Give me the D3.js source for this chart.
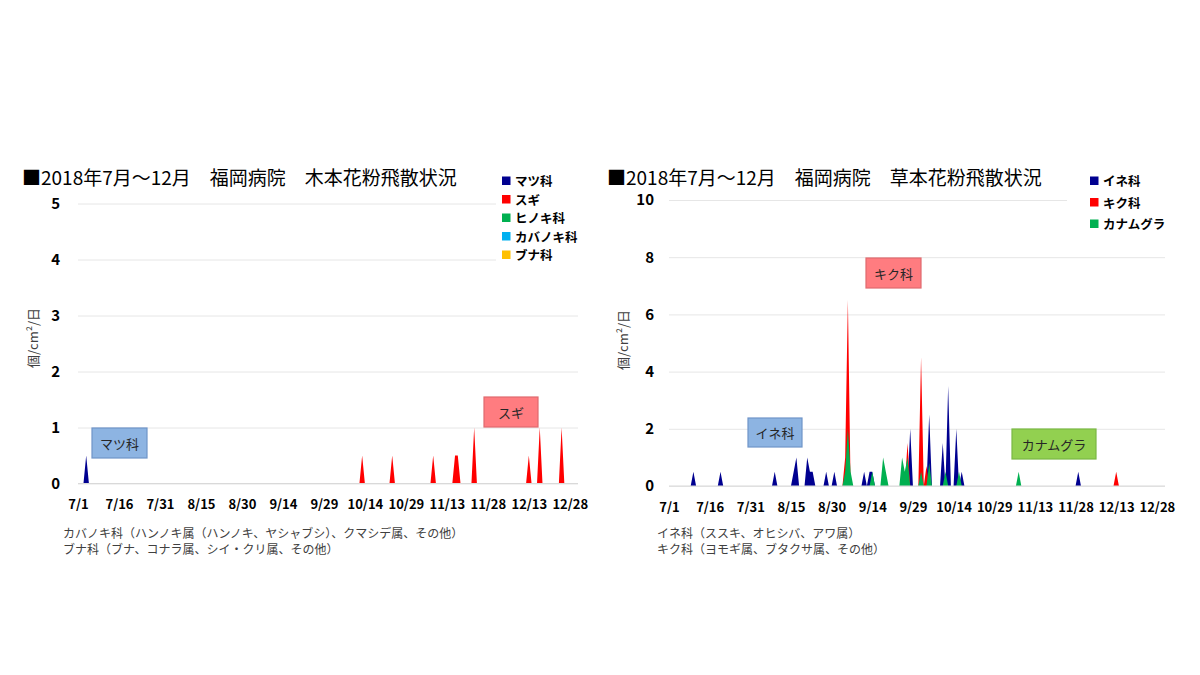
<!DOCTYPE html>
<html><head><meta charset="utf-8">
<script src="https://cdn.jsdelivr.net/npm/d3@7"></script>
<style>body{margin:0;background:#fff;} svg{display:block;}</style>
</head><body>
<svg id="c" width="1200" height="675"></svg>
<script>
// ---- shared ----
const year = 2018;
const tickLabels = ["7/1","7/16","7/31","8/15","8/30","9/14","9/29","10/14","10/29","11/13","11/28","12/13","12/28"];

// ---- left chart: tree pollen (木本) ----
const treeTitle = "■2018年7月～12月　福岡病院　木本花粉飛散状況";
const treeSeries = ["マツ科","スギ","ヒノキ科","カバノキ科","ブナ科"];
const treeColors = ["#000090","#ff0000","#00b050","#00b0f0","#ffc000"];
const pineDates = ["7/4"];
const pineValues = [0.5];
const cedarDates = ["10/13","10/24","11/8","11/16","11/17","11/23","12/13","12/17","12/25"];
const cedarValues = [0.5,0.5,0.5,0.5,0.5,1,0.5,1,1];
const cypressDates = [];  const cypressValues = [];
const birchDates = [];    const birchValues = [];
const beechDates = [];    const beechValues = [];
const treeYTicks = [0,1,2,3,4,5];
const treeNotes = ["カバノキ科（ハンノキ属（ハンノキ、ヤシャブシ）、クマシデ属、その他）","ブナ科（ブナ、コナラ属、シイ・クリ属、その他）"];

// ---- right chart: herb pollen (草本) ----
const herbTitle = "■2018年7月～12月　福岡病院　草本花粉飛散状況";
const herbSeries = ["イネ科","キク科","カナムグラ"];
const herbColors = ["#000090","#ff0000","#00b050"];
const grassDates = ["7/10","7/20","8/9","8/16","8/17","8/21","8/22","8/23","8/28","8/31","9/11","9/13","9/14","9/28","10/5","10/10","10/12","10/15","10/17","11/29"];
const grassValues = [0.5,0.5,0.5,0.5,1,1,0.5,0.5,0.5,0.5,0.5,0.5,0.5,2,2.5,1.5,3.5,2,0.5,0.5];
const asterDates = ["9/4","9/5","9/27","10/2","10/4","12/13"];
const asterValues = [1,6.5,1.5,4.5,0.7,0.5];
const hopDates = ["9/4","9/5","9/6","9/14","9/18","9/19","9/25","9/26","9/27","10/2","10/5","10/11","10/16","11/7"];
const hopValues = [0.5,2,0.5,0.5,1,0.5,1,0.5,1,0.5,0.8,0.5,0.5,0.5];
const herbYTicks = [0,2,4,6,8,10];
const herbNotes = ["イネ科（ススキ、オヒシバ、アワ属）","キク科（ヨモギ属、ブタクサ属、その他）"];

const yTitle = "個/cm²/日";

// ---- helpers ----
const parseMD = s => { const [m,d] = s.split("/").map(Number); return new Date(year, m-1, d); };
const days = d3.timeDay.range(new Date(year,6,1), new Date(year,11,31+1));
const key = d => (d.getMonth()+1)+"/"+d.getDate();
function series(dates, values){
  const m = new Map(dates.map((d,i)=>[d, values[i]]));
  return days.map(d => ({date:d, v: m.has(key(d)) ? m.get(key(d)) : 0}));
}
const FONT = "'Noto Sans CJK JP', 'Noto Sans', sans-serif";
const svg = d3.select("#c");

function drawChart(cfg){
  const g = svg.append("g");
  const x = d3.scaleTime().domain([days[0], days[days.length-1]]).range([cfg.x0, cfg.x1]);
  const y = d3.scaleLinear().domain([0, cfg.yMax]).range([cfg.y0, cfg.y1]);

  // title
  g.append("text").attr("x", cfg.titleX).attr("y", 176).attr("dominant-baseline","central")
    .attr("font-family", FONT).attr("font-size", 19).attr("fill","#000").text(cfg.title);

  // gridlines
  const grid = g.append("g").attr("transform", `translate(${cfg.x0},0)`)
    .call(d3.axisLeft(y).tickValues(cfg.yTicks).tickSize(-(cfg.x1-cfg.x0)).tickFormat(""));
  grid.select(".domain").remove();
  grid.selectAll("line").attr("stroke","#e6e6e6").attr("stroke-width",1);

  // areas (overlapping, drawn in series order)
  const area = d3.area().x(d=>x(d.date)).y0(y(0)).y1(d=>y(d.v)).curve(d3.curveLinear);
  cfg.data.forEach((s,i) => {
    g.append("path").datum(s).attr("d", area).attr("fill", cfg.colors[i]);
  });

  // baseline
  g.append("line").attr("x1",cfg.x0).attr("x2",cfg.x1).attr("y1",y(0)).attr("y2",y(0))
    .attr("stroke","#d9d9d9").attr("stroke-width",1.2);

  // y tick labels
  const ya = g.append("g").attr("transform", `translate(${cfg.yLabelX},0)`)
    .call(d3.axisLeft(y).tickValues(cfg.yTicks).tickSize(0).tickPadding(0).tickFormat(d3.format("d")));
  ya.select(".domain").remove();
  ya.selectAll("text").attr("font-family", FONT).attr("font-size", 15).attr("font-weight","bold").attr("fill","#000");

  // x tick labels
  const xa = g.append("g").attr("transform", `translate(0,${cfg.xLabelY})`)
    .call(d3.axisBottom(x).tickValues(tickLabels.map(parseMD)).tickSize(0).tickPadding(0)
      .tickFormat(d => (d.getMonth()+1)+"/"+d.getDate()));
  xa.select(".domain").remove();
  xa.selectAll("text").attr("font-family", FONT).attr("font-size", 13).attr("font-weight","bold").attr("fill","#000");

  // y axis title
  g.append("text").attr("transform", `translate(${cfg.yTitleX},${cfg.yTitleY}) rotate(-90)`)
    .attr("text-anchor","middle").attr("dominant-baseline","central")
    .attr("font-family", FONT).attr("font-size", 13).attr("fill","#404040").text(yTitle);

  // legend (white background)
  g.append("rect").attr("x", cfg.legBg[0]).attr("y", cfg.legBg[1]).attr("width", cfg.legBg[2]).attr("height", cfg.legBg[3]).attr("fill","#fff");
  cfg.names.forEach((n,i) => {
    const cy = cfg.legY0 + i*cfg.legDy;
    g.append("rect").attr("x", cfg.legX).attr("y", cy-4).attr("width", 8.5).attr("height", 8.5).attr("fill", cfg.colors[i]);
    g.append("text").attr("x", cfg.legX+13).attr("y", cy).attr("dominant-baseline","central")
      .attr("font-family", FONT).attr("font-size", 12.5).attr("font-weight","bold").attr("fill","#000").text(n);
  });

  // annotation boxes
  cfg.boxes.forEach(b => {
    g.append("rect").attr("x", b.x).attr("y", b.y).attr("width", b.w).attr("height", b.h)
      .attr("fill", b.fill).attr("stroke", b.stroke).attr("stroke-width", 1.2);
    g.append("text").attr("x", b.x + b.w/2).attr("y", b.y + b.h/2).attr("text-anchor","middle")
      .attr("dominant-baseline","central").attr("font-family", FONT).attr("font-size", 13).attr("fill","#262626").text(b.label);
  });

  // footnotes
  cfg.notes.forEach((t,i) => {
    g.append("text").attr("x", cfg.noteX).attr("y", 532 + i*16).attr("dominant-baseline","central")
      .attr("font-family", FONT).attr("font-size", 12).attr("fill","#404040").text(t);
  });
}

drawChart({
  title: treeTitle, titleX: 22,
  x0: 78, x1: 578, y0: 483.5, y1: 203.5, yMax: 5, yTicks: treeYTicks,
  yLabelX: 60, xLabelY: 500, yTitleX: 32, yTitleY: 338,
  data: [series(pineDates,pineValues), series(cedarDates,cedarValues), series(cypressDates,cypressValues), series(birchDates,birchValues), series(beechDates,beechValues)],
  colors: treeColors, names: treeSeries,
  legBg: [496, 168, 100, 96], legX: 502, legY0: 180.5, legDy: 18.5,
  boxes: [
    {label: treeSeries[0], x: 92, y: 428, w: 55, h: 30, fill: "#8db4e2", stroke: "#6f94c8"},
    {label: treeSeries[1], x: 484, y: 397, w: 54, h: 30, fill: "#ff7c80", stroke: "#e06a6e"}
  ],
  notes: treeNotes, noteX: 63
});

drawChart({
  title: herbTitle, titleX: 607,
  x0: 669, x1: 1165, y0: 486, y1: 200, yMax: 10, yTicks: herbYTicks,
  yLabelX: 654, xLabelY: 503, yTitleX: 622, yTitleY: 340,
  data: [series(grassDates,grassValues), series(asterDates,asterValues), series(hopDates,hopValues)],
  colors: herbColors, names: herbSeries,
  legBg: [1067, 168, 110, 68], legX: 1090, legY0: 180.5, legDy: 21.5,
  boxes: [
    {label: herbSeries[0], x: 748, y: 418, w: 54, h: 29, fill: "#8db4e2", stroke: "#6f94c8"},
    {label: herbSeries[1], x: 866, y: 258, w: 55, h: 30, fill: "#ff7c80", stroke: "#e06a6e"},
    {label: herbSeries[2], x: 1012, y: 429, w: 84, h: 30, fill: "#92d050", stroke: "#7ab844"}
  ],
  notes: herbNotes, noteX: 657
});
</script>
</body></html>
